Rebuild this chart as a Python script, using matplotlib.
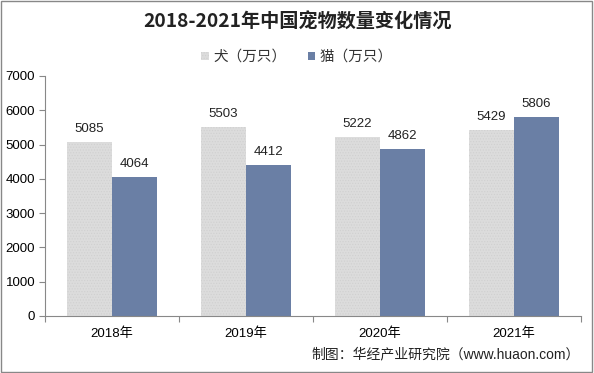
import matplotlib
matplotlib.use("Agg")
import matplotlib.pyplot as plt
import numpy as np
from matplotlib.patches import Rectangle

plt.rcParams['font.family'] = ['Liberation Sans', 'Noto Sans CJK SC', 'DejaVu Sans']
plt.rcParams['hatch.color'] = '#c8c8c8'
plt.rcParams['hatch.linewidth'] = 0.5

categories = ['2018年', '2019年', '2020年', '2021年']
dogs = [5085, 5503, 5222, 5429]
cats = [4064, 4412, 4862, 5806]
series_names = ['犬（万只）', '猫（万只）']
yticks = [0, 1000, 2000, 3000, 4000, 5000, 6000, 7000]

fig = plt.figure(figsize=(5.94, 3.73), dpi=100)
ax = fig.add_axes([45/594, 57/373, 536/594, 240/373])

x = np.arange(len(categories))
w = 0.336
b1 = ax.bar(x - w/2, dogs, w, color='#dcdcdc', hatch='......', edgecolor='#d0d0d0', linewidth=0, label=series_names[0])
b2 = ax.bar(x + w/2, cats, w, color='#6a7fa5', linewidth=0, label=series_names[1])

for xi, v in zip(x - w/2, dogs):
    ax.text(xi, v + 200, str(v), ha='center', va='bottom', fontsize=9.5, color='#222222')
for xi, v in zip(x + w/2, cats):
    ax.text(xi, v + 200, str(v), ha='center', va='bottom', fontsize=9.5, color='#222222')

ax.set_xlim(-0.5, len(categories) - 0.5)
ax.set_ylim(0, 7000)
ax.set_yticks(yticks)
ax.set_yticklabels([str(t) for t in yticks], fontsize=9.5)
ax.set_xticks(np.arange(len(categories) + 1) - 0.5)
ax.set_xticklabels([])
ax.set_xticks(x, minor=True)
ax.set_xticklabels(categories, minor=True, fontsize=9.5)
ax.tick_params(axis='x', which='minor', length=0, pad=8)
ax.tick_params(axis='x', which='major', length=4, color='#888888', direction='out')
ax.tick_params(axis='y', length=4, color='#888888', direction='out', pad=3)
for s in ['top', 'right']:
    ax.spines[s].set_visible(False)
ax.spines['left'].set_color('#888888')
ax.spines['bottom'].set_color('#888888')

fig.text(0.5, 1 - 22/373, '2018-2021年中国宠物数量变化情况', ha='center', va='center', fontsize=13.8,
         fontweight='bold', color='#222222', family=['Noto Sans CJK SC', 'DejaVu Sans'])
leg = fig.legend(handles=[b1, b2], loc='center', bbox_to_anchor=(0.5, 1 - 57/373), ncol=2, frameon=False,
                 prop={'family': ['Noto Sans CJK SC', 'DejaVu Sans'], 'size': 10.5},
                 handlelength=0.5, handleheight=0.5, columnspacing=1.5, handletextpad=0.3)
for t in leg.get_texts():
    t.set_color('#333333')
fig.text(580/594, 1 - 354/373, '制图：华经产业研究院（www.huaon.com）', ha='right', va='center', fontsize=10, color='#222222')

fig.patches.append(Rectangle((0.002, 0.003), 0.995, 0.994, transform=fig.transFigure, fill=False, edgecolor='#888888', linewidth=1))

fig.savefig('out.png', dpi=100)
